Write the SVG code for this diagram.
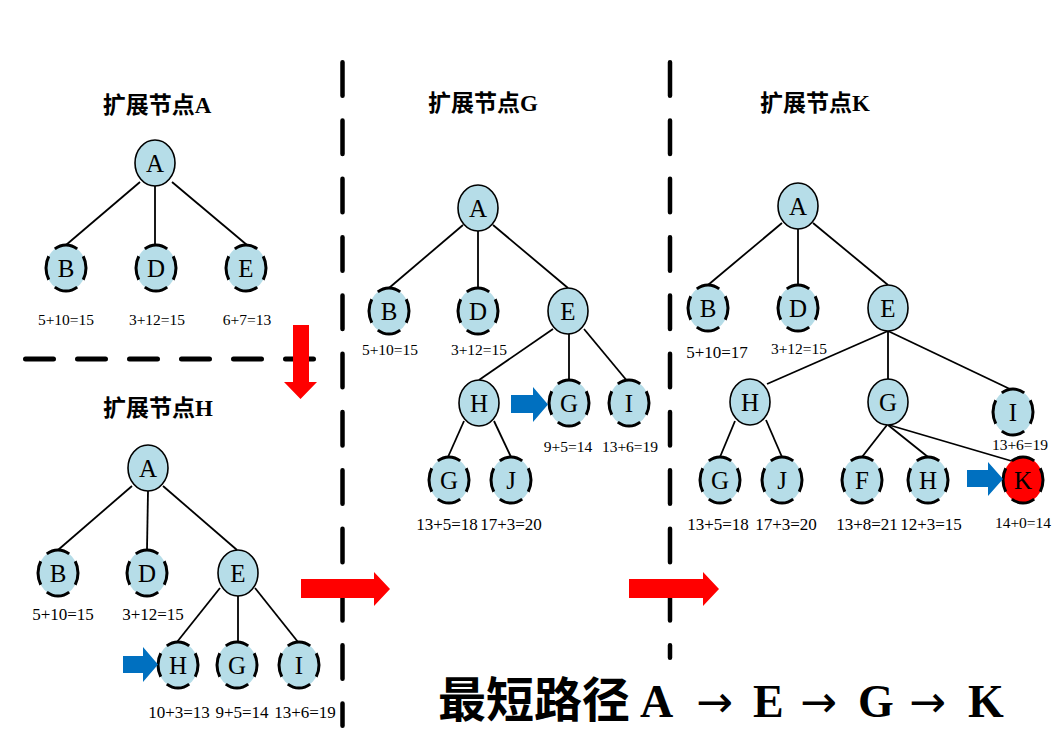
<svg xmlns="http://www.w3.org/2000/svg" width="1064" height="755" viewBox="0 0 1064 755">
<style>
.bg{fill:#ffffff}
.n{fill:#b6dde8;stroke:#000;stroke-width:1.6}
.d{fill:#b6dde8;stroke:#000;stroke-width:3;stroke-dasharray:18 7;stroke-dashoffset:9}
.k{fill:#ff0000;stroke:#000;stroke-width:3;stroke-dasharray:18 7;stroke-dashoffset:9}
.lt{font-family:"Liberation Serif","Times New Roman",serif;font-size:25px;text-anchor:middle;fill:#000}
.lb{font-family:"Liberation Serif","Times New Roman",serif;font-size:15.5px;text-anchor:middle;fill:#000}
.lb2{font-family:"Liberation Serif","Times New Roman",serif;font-size:17px;text-anchor:middle;fill:#000}
.ti{font-family:"Liberation Serif","Noto Sans CJK SC",serif;font-size:23px;font-weight:bold;text-anchor:middle;fill:#000}
.e{stroke:#000;stroke-width:1.8;fill:none}
.vd{stroke:#000;stroke-width:4.5;stroke-linecap:round;stroke-dasharray:33.5 24.8;fill:none}
.hd{stroke:#000;stroke-width:5;stroke-linecap:round;stroke-dasharray:28 24;fill:none}
.ra{fill:#ff0000}
.ba{fill:#0070c0}
</style>
<rect class="bg" x="0" y="0" width="1064" height="755"/>

<g id="dividers">
<line class="vd" x1="342.5" y1="62.25" x2="342.5" y2="725.75"/>
<line class="vd" x1="670" y1="62.25" x2="670" y2="657.75"/>
<line class="hd" x1="25.5" y1="359" x2="314.5" y2="359"/>
</g>

<g id="titles">
<text class="ti" x="157" y="113">扩展节点A</text>
<text class="ti" x="158" y="416">扩展节点H</text>
<text class="ti" x="483" y="111">扩展节点G</text>
<text class="ti" x="815" y="111">扩展节点K</text>
</g>

<g id="connectors">
<line class="e" x1="140" y1="182" x2="66" y2="245"/>
<line class="e" x1="155" y1="186" x2="155" y2="245"/>
<line class="e" x1="172" y1="182" x2="247" y2="245"/>

<line class="e" x1="132" y1="486" x2="58" y2="550"/>
<line class="e" x1="148" y1="491" x2="147" y2="550"/>
<line class="e" x1="163" y1="486" x2="237" y2="550"/>
<line class="e" x1="220" y1="588" x2="177" y2="642"/>
<line class="e" x1="238" y1="596" x2="238" y2="642"/>
<line class="e" x1="255" y1="588" x2="298" y2="642"/>

<line class="e" x1="463" y1="225" x2="389" y2="288"/>
<line class="e" x1="478" y1="231" x2="478" y2="288"/>
<line class="e" x1="493" y1="225" x2="568" y2="288"/>
<line class="e" x1="553" y1="329" x2="479" y2="380"/>
<line class="e" x1="569" y1="334" x2="569" y2="380"/>
<line class="e" x1="584" y1="329" x2="628" y2="382"/>
<line class="e" x1="464" y1="421" x2="448" y2="457"/>
<line class="e" x1="494" y1="421" x2="511" y2="457"/>

<line class="e" x1="782" y1="223" x2="708" y2="285"/>
<line class="e" x1="798" y1="229" x2="798" y2="285"/>
<line class="e" x1="813" y1="223" x2="888" y2="285"/>
<line class="e" x1="888" y1="331" x2="767" y2="384"/>
<line class="e" x1="888" y1="331" x2="888" y2="379"/>
<line class="e" x1="888" y1="331" x2="1012" y2="390"/>
<line class="e" x1="735" y1="421" x2="720" y2="457"/>
<line class="e" x1="766" y1="420" x2="782" y2="457"/>
<line class="e" x1="887" y1="425" x2="862" y2="457"/>
<line class="e" x1="888" y1="425" x2="928" y2="457"/>
<line class="e" x1="889" y1="425" x2="1015" y2="462"/>
</g>

<!-- Panel 1 -->
<g id="p1-A"><ellipse class="n" cx="155" cy="163" rx="20" ry="23"/><text class="lt" x="155" y="172">A</text></g>
<g id="p1-B"><ellipse class="d" pathLength="100" cx="66" cy="268" rx="20" ry="23"/><text class="lt" x="66" y="277">B</text><text class="lb" x="66" y="325">5+10=15</text></g>
<g id="p1-D"><ellipse class="d" pathLength="100" cx="156" cy="268" rx="20" ry="23"/><text class="lt" x="156" y="277">D</text><text class="lb" x="157" y="325">3+12=15</text></g>
<g id="p1-E"><ellipse class="d" pathLength="100" cx="246" cy="268" rx="20" ry="23"/><text class="lt" x="246" y="277">E</text><text class="lb" x="247" y="325">6+7=13</text></g>

<!-- Panel 2 -->
<g id="p2-A"><ellipse class="n" cx="148" cy="468" rx="20" ry="23"/><text class="lt" x="148" y="477">A</text></g>
<g id="p2-B"><ellipse class="d" pathLength="100" cx="58" cy="573" rx="20" ry="23"/><text class="lt" x="58" y="582">B</text><text class="lb2" x="63" y="620">5+10=15</text></g>
<g id="p2-D"><ellipse class="d" pathLength="100" cx="147" cy="573" rx="20" ry="23"/><text class="lt" x="147" y="582">D</text><text class="lb2" x="153" y="620">3+12=15</text></g>
<g id="p2-E"><ellipse class="n" cx="238" cy="573" rx="20" ry="23"/><text class="lt" x="238" y="582">E</text></g>
<g id="p2-H"><ellipse class="d" pathLength="100" cx="178" cy="665" rx="20" ry="23"/><text class="lt" x="178" y="674">H</text><text class="lb2" x="179" y="718">10+3=13</text></g>
<g id="p2-G"><ellipse class="d" pathLength="100" cx="237" cy="665" rx="20" ry="23"/><text class="lt" x="237" y="674">G</text><text class="lb2" x="242" y="718">9+5=14</text></g>
<g id="p2-I"><ellipse class="d" pathLength="100" cx="299" cy="665" rx="20" ry="23"/><text class="lt" x="299" y="674">I</text><text class="lb2" x="305" y="718">13+6=19</text></g>

<!-- Panel 3 -->
<g id="p3-A"><ellipse class="n" cx="478" cy="208" rx="20" ry="23"/><text class="lt" x="478" y="217">A</text></g>
<g id="p3-B"><ellipse class="d" pathLength="100" cx="389" cy="311" rx="20" ry="23"/><text class="lt" x="389" y="320">B</text><text class="lb" x="390" y="355">5+10=15</text></g>
<g id="p3-D"><ellipse class="d" pathLength="100" cx="478" cy="311" rx="20" ry="23"/><text class="lt" x="478" y="320">D</text><text class="lb" x="479" y="355">3+12=15</text></g>
<g id="p3-E"><ellipse class="n" cx="568" cy="311" rx="20" ry="23"/><text class="lt" x="568" y="320">E</text></g>
<g id="p3-H"><ellipse class="n" cx="479" cy="403" rx="20" ry="23"/><text class="lt" x="479" y="412">H</text></g>
<g id="p3-G"><ellipse class="d" pathLength="100" cx="569" cy="403" rx="20" ry="23"/><text class="lt" x="569" y="412">G</text><text class="lb" x="568" y="452">9+5=14</text></g>
<g id="p3-I"><ellipse class="d" pathLength="100" cx="629" cy="403" rx="20" ry="23"/><text class="lt" x="629" y="412">I</text><text class="lb" x="630" y="452">13+6=19</text></g>
<g id="p3-G2"><ellipse class="d" pathLength="100" cx="449" cy="480" rx="20" ry="23"/><text class="lt" x="449" y="489">G</text><text class="lb2" x="447" y="530">13+5=18</text></g>
<g id="p3-J"><ellipse class="d" pathLength="100" cx="511" cy="480" rx="20" ry="23"/><text class="lt" x="511" y="489">J</text><text class="lb2" x="511" y="530">17+3=20</text></g>

<!-- Panel 4 -->
<g id="p4-A"><ellipse class="n" cx="798" cy="206" rx="20" ry="23"/><text class="lt" x="798" y="215">A</text></g>
<g id="p4-B"><ellipse class="d" pathLength="100" cx="708" cy="308" rx="20" ry="23"/><text class="lt" x="708" y="317">B</text><text class="lb2" x="717" y="358">5+10=17</text></g>
<g id="p4-D"><ellipse class="d" pathLength="100" cx="798" cy="308" rx="20" ry="23"/><text class="lt" x="798" y="317">D</text><text class="lb" x="799" y="354">3+12=15</text></g>
<g id="p4-E"><ellipse class="n" cx="888" cy="308" rx="20" ry="23"/><text class="lt" x="888" y="317">E</text></g>
<g id="p4-H"><ellipse class="n" cx="750" cy="402" rx="20" ry="23"/><text class="lt" x="750" y="411">H</text></g>
<g id="p4-G"><ellipse class="n" cx="888" cy="402" rx="20" ry="23"/><text class="lt" x="888" y="411">G</text></g>
<g id="p4-I"><ellipse class="d" pathLength="100" cx="1013" cy="412" rx="20" ry="23"/><text class="lt" x="1013" y="421">I</text><text class="lb" x="1020" y="450">13+6=19</text></g>
<g id="p4-G2"><ellipse class="d" pathLength="100" cx="720" cy="480" rx="20" ry="23"/><text class="lt" x="720" y="489">G</text><text class="lb2" x="718" y="530">13+5=18</text></g>
<g id="p4-J"><ellipse class="d" pathLength="100" cx="782" cy="480" rx="20" ry="23"/><text class="lt" x="782" y="489">J</text><text class="lb2" x="786" y="530">17+3=20</text></g>
<g id="p4-F"><ellipse class="d" pathLength="100" cx="862" cy="480" rx="20" ry="23"/><text class="lt" x="862" y="489">F</text><text class="lb2" x="867" y="530">13+8=21</text></g>
<g id="p4-H2"><ellipse class="d" pathLength="100" cx="928" cy="480" rx="20" ry="23"/><text class="lt" x="928" y="489">H</text><text class="lb2" x="931" y="530">12+3=15</text></g>
<g id="p4-K"><ellipse class="k" pathLength="100" cx="1023" cy="480" rx="20" ry="23"/><text class="lt" x="1023" y="489">K</text><text class="lb" x="1023" y="528">14+0=14</text></g>

<g id="arrows">
<polygon class="ra" points="293,325 309,325 309,382 317,382 300.5,399 284,382 293,382"/>
<polygon class="ra" points="301,579 374,579 374,572 390,589 374,606 374,598 301,598"/>
<polygon class="ra" points="629,579 703,579 703,572 719,589 703,606 703,598 629,598"/>
<polygon class="ba" points="123,656 143,656 143,647 158,664.5 143,682 143,673 123,673"/>
<polygon class="ba" points="511,395 533,395 533,387 548,404.5 533,422 533,413 511,413"/>
<polygon class="ba" points="967,470 988,470 988,462 1003,479 988,496 988,487 967,487"/>
</g>

<g id="result">
<text y="717" fill="#000"><tspan x="438" font-family="'Noto Sans CJK SC',sans-serif" font-size="48" font-weight="bold">最短路径</tspan><tspan x="640" font-family="'Liberation Serif',serif" font-size="46" font-weight="bold">A</tspan><tspan x="696" font-family="'DejaVu Sans',sans-serif" font-size="44">→</tspan><tspan x="753" font-family="'Liberation Serif',serif" font-size="46" font-weight="bold">E</tspan><tspan x="800" font-family="'DejaVu Sans',sans-serif" font-size="44">→</tspan><tspan x="858" font-family="'Liberation Serif',serif" font-size="46" font-weight="bold">G</tspan><tspan x="909" font-family="'DejaVu Sans',sans-serif" font-size="44">→</tspan><tspan x="968" font-family="'Liberation Serif',serif" font-size="46" font-weight="bold">K</tspan></text>
</g>
</svg>
